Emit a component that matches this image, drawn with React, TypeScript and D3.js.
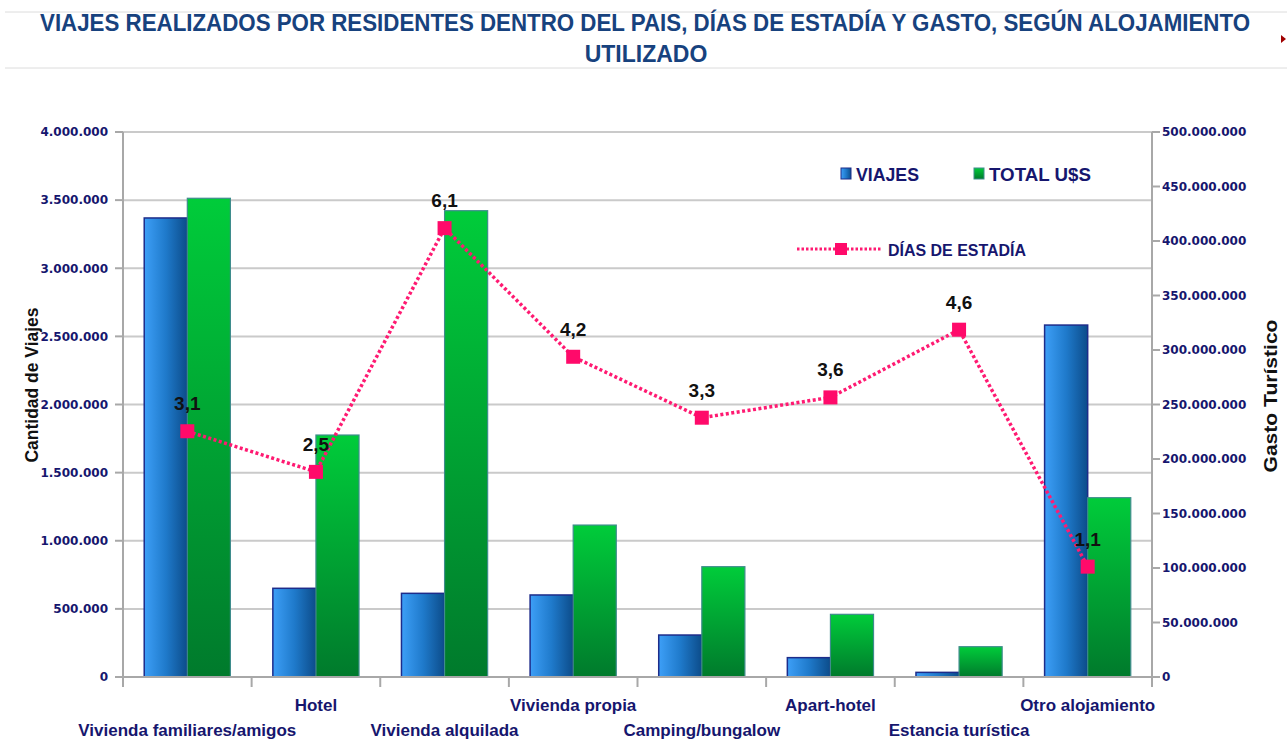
import * as d3 from "d3";

// chart data
const categorias = [
  "Vivienda familiares/amigos",
  "Hotel",
  "Vivienda alquilada",
  "Vivienda propia",
  "Camping/bungalow",
  "Apart-hotel",
  "Estancia turística",
  "Otro alojamiento",
];
const viajes = [3369000, 651000, 614000, 602000, 308000, 142000, 34000, 2583000];
const totalUSD = [439200000, 222000000, 427800000, 139400000, 101200000, 57500000, 27800000, 164500000];
const diasEstadia = [3.1, 2.5, 6.1, 4.2, 3.3, 3.6, 4.6, 1.1];
const viajesTicks = [0, 500000, 1000000, 1500000, 2000000, 2500000, 3000000, 3500000, 4000000];
const gastoTicks = [0, 50000000, 100000000, 150000000, 200000000, 250000000, 300000000, 350000000, 400000000, 450000000, 500000000];

const W = 1287;
const H = 739;
const marginLeft = 123;
const marginRight = 1152;
const marginTop = 132;
const marginBottom = 677;

const navy = "#16166e";
const narrow = "'Liberation Sans Narrow', 'Liberation Sans', Arial, sans-serif";
const wide = "'DejaVu Sans', Verdana, sans-serif";

const fmt = (v: number) => d3.format(",")(v).replace(/,/g, ".");

export default function App() {
  const x = d3.scaleBand<string>().domain(categorias).range([marginLeft, marginRight]).padding(0);
  const groupW = x.bandwidth() * 0.67;
  const xSub = d3
    .scaleBand<string>()
    .domain(["viajes", "total"])
    .range([(x.bandwidth() - groupW) / 2, (x.bandwidth() + groupW) / 2]);

  const yLeft = d3.scaleLinear().domain([0, 4000000]).range([marginBottom, marginTop]);
  const yRight = d3.scaleLinear().domain([0, 500000000]).range([marginBottom, marginTop]);
  // the line sits on a hidden axis of its own
  const yDias = d3.scaleLinear().domain([-0.53, 7.52]).range([marginBottom, marginTop]);

  const cx = (c: string) => (x(c) ?? 0) + x.bandwidth() / 2;
  const line = d3
    .line<number>()
    .x((_, i) => cx(categorias[i]))
    .y((d) => yDias(d));

  return (
    <svg width={W} height={H} style={{ position: "absolute", left: 0, top: 0, background: "#fff" }}>
      <defs>
        <linearGradient id="gBlue" x1="0" x2="1" y1="0" y2="0">
          <stop offset="0" stopColor="#3d9ff7" />
          <stop offset="0.5" stopColor="#1f7acb" />
          <stop offset="1" stopColor="#0c4c8a" />
        </linearGradient>
        <linearGradient id="gGreen" x1="0" x2="0" y1="0" y2="1">
          <stop offset="0" stopColor="#00cc3a" />
          <stop offset="1" stopColor="#007a2c" />
        </linearGradient>
      </defs>

      {/* frame lines around the title */}
      <line x1={5} x2={W} y1={12} y2={12} stroke="#dcdcdc" strokeWidth={1} />
      <line x1={5} x2={W} y1={68} y2={68} stroke="#dcdcdc" strokeWidth={1} />
      <path d="M1281,35 L1286,39 L1281,43 Z" fill="#a00000" />

      {/* title */}
      <g fontFamily={narrow} fontWeight="bold" fontSize={23} fill="#17427e" textAnchor="middle">
        <text x={645} y={31} textLength={1210} lengthAdjust="spacingAndGlyphs">
          VIAJES REALIZADOS POR RESIDENTES DENTRO DEL PAIS, DÍAS DE  ESTADÍA Y GASTO, SEGÚN ALOJAMIENTO
        </text>
        <text x={646} y={62}>UTILIZADO</text>
      </g>

      {/* gridlines */}
      {viajesTicks.map((t) => (
        <line key={"g" + t} x1={marginLeft} x2={marginRight} y1={yLeft(t)} y2={yLeft(t)} stroke="#cacaca" strokeWidth={2} />
      ))}

      {/* left axis */}
      <line x1={marginLeft} x2={marginLeft} y1={marginTop} y2={marginBottom + 10} stroke="#a8a8a8" strokeWidth={2} />
      {viajesTicks.map((t) => (
        <g key={"l" + t}>
          <line x1={marginLeft - 8} x2={marginLeft} y1={yLeft(t)} y2={yLeft(t)} stroke="#a8a8a8" strokeWidth={2} />
          <text x={108} y={yLeft(t)} dy="0.36em" textAnchor="end" fontFamily={wide} fontWeight="bold" fontSize={12} fill={navy}>
            {fmt(t)}
          </text>
        </g>
      ))}

      {/* right axis */}
      <line x1={marginRight} x2={marginRight} y1={marginTop} y2={marginBottom + 10} stroke="#a8a8a8" strokeWidth={2} />
      {gastoTicks.map((t) => (
        <g key={"r" + t}>
          <line x1={marginRight} x2={marginRight + 8} y1={yRight(t)} y2={yRight(t)} stroke="#a8a8a8" strokeWidth={2} />
          <text x={1162} y={yRight(t)} dy="0.36em" textAnchor="start" fontFamily={wide} fontWeight="bold" fontSize={12} fill={navy}>
            {fmt(t)}
          </text>
        </g>
      ))}

      {/* bars */}
      {categorias.map((c, i) => (
        <g key={c} transform={`translate(${x(c)},0)`}>
          <rect
            x={xSub("viajes")}
            y={yLeft(viajes[i])}
            width={xSub.bandwidth()}
            height={marginBottom - yLeft(viajes[i])}
            fill="url(#gBlue)"
            stroke="#1d2c8a"
            strokeWidth={1.5}
          />
          <rect
            x={xSub("total")}
            y={yRight(totalUSD[i])}
            width={xSub.bandwidth()}
            height={marginBottom - yRight(totalUSD[i])}
            fill="url(#gGreen)"
            stroke="#3e8c8c"
            strokeWidth={1.2}
          />
        </g>
      ))}

      {/* bottom axis */}
      <line x1={marginLeft} x2={marginRight} y1={marginBottom} y2={marginBottom} stroke="#a8a8a8" strokeWidth={2} />
      {[...categorias.map((c) => x(c) ?? 0), marginRight].map((px, i) => (
        <line key={"t" + i} x1={px} x2={px} y1={marginBottom} y2={marginBottom + 10} stroke="#a8a8a8" strokeWidth={2} />
      ))}
      {categorias.map((c, i) => (
        <text
          key={"c" + c}
          x={cx(c)}
          y={i % 2 === 1 ? 711 : 736}
          textAnchor="middle"
          fontFamily={narrow}
          fontWeight="bold"
          fontSize={17}
          fill={navy}
        >
          {c}
        </text>
      ))}

      {/* dias de estadia line */}
      <path d={line(diasEstadia) ?? ""} fill="none" stroke="#ff1a72" strokeWidth={3.5} strokeDasharray="3 2.5" />
      {diasEstadia.map((d, i) => (
        <g key={"d" + i}>
          <rect x={cx(categorias[i]) - 7} y={yDias(d) - 7} width={14} height={14} fill="#ff0a6a" />
          <text
            x={cx(categorias[i])}
            y={yDias(d) - 21}
            textAnchor="middle"
            fontFamily={narrow}
            fontWeight="bold"
            fontSize={19}
            fill="#111"
          >
            {String(d).replace(".", ",")}
          </text>
        </g>
      ))}

      {/* axis titles */}
      <text
        transform={`translate(38,385) rotate(-90)`}
        textAnchor="middle"
        fontFamily="'Liberation Sans', Arial, sans-serif"
        fontWeight="bold"
        fontSize={18}
        textLength={155}
        lengthAdjust="spacingAndGlyphs"
        fill="#111"
      >
        Cantidad de Viajes
      </text>
      <text
        transform={`translate(1277,396) rotate(-90)`}
        textAnchor="middle"
        fontFamily="'Liberation Sans', Arial, sans-serif"
        fontWeight="bold"
        fontSize={19}
        textLength={153}
        lengthAdjust="spacingAndGlyphs"
        fill="#111"
      >
        Gasto Turístico
      </text>

      {/* legend */}
      <g fontFamily="'Liberation Sans', Arial, sans-serif" fontWeight="bold" fontSize={17.5} fill={navy}>
        <rect x={841} y={168} width={10} height={11} fill="url(#gBlue)" stroke="#1d2c8a" />
        <text x={856} y={181} textLength={63} lengthAdjust="spacingAndGlyphs">VIAJES</text>
        <rect x={974} y={168} width={10} height={11} fill="url(#gGreen)" stroke="#3e8c8c" />
        <text x={989} y={181} textLength={102} lengthAdjust="spacingAndGlyphs">TOTAL U$S</text>
        <line x1={797} x2={881} y1={249} y2={249} stroke="#ff1a72" strokeWidth={3} strokeDasharray="2.5 2" />
        <rect x={835} y={243} width={12} height={12} fill="#ff0a6a" />
        <text x={888} y={256} fontSize={16} textLength={138} lengthAdjust="spacingAndGlyphs">DÍAS DE ESTADÍA</text>
      </g>
    </svg>
  );
}
